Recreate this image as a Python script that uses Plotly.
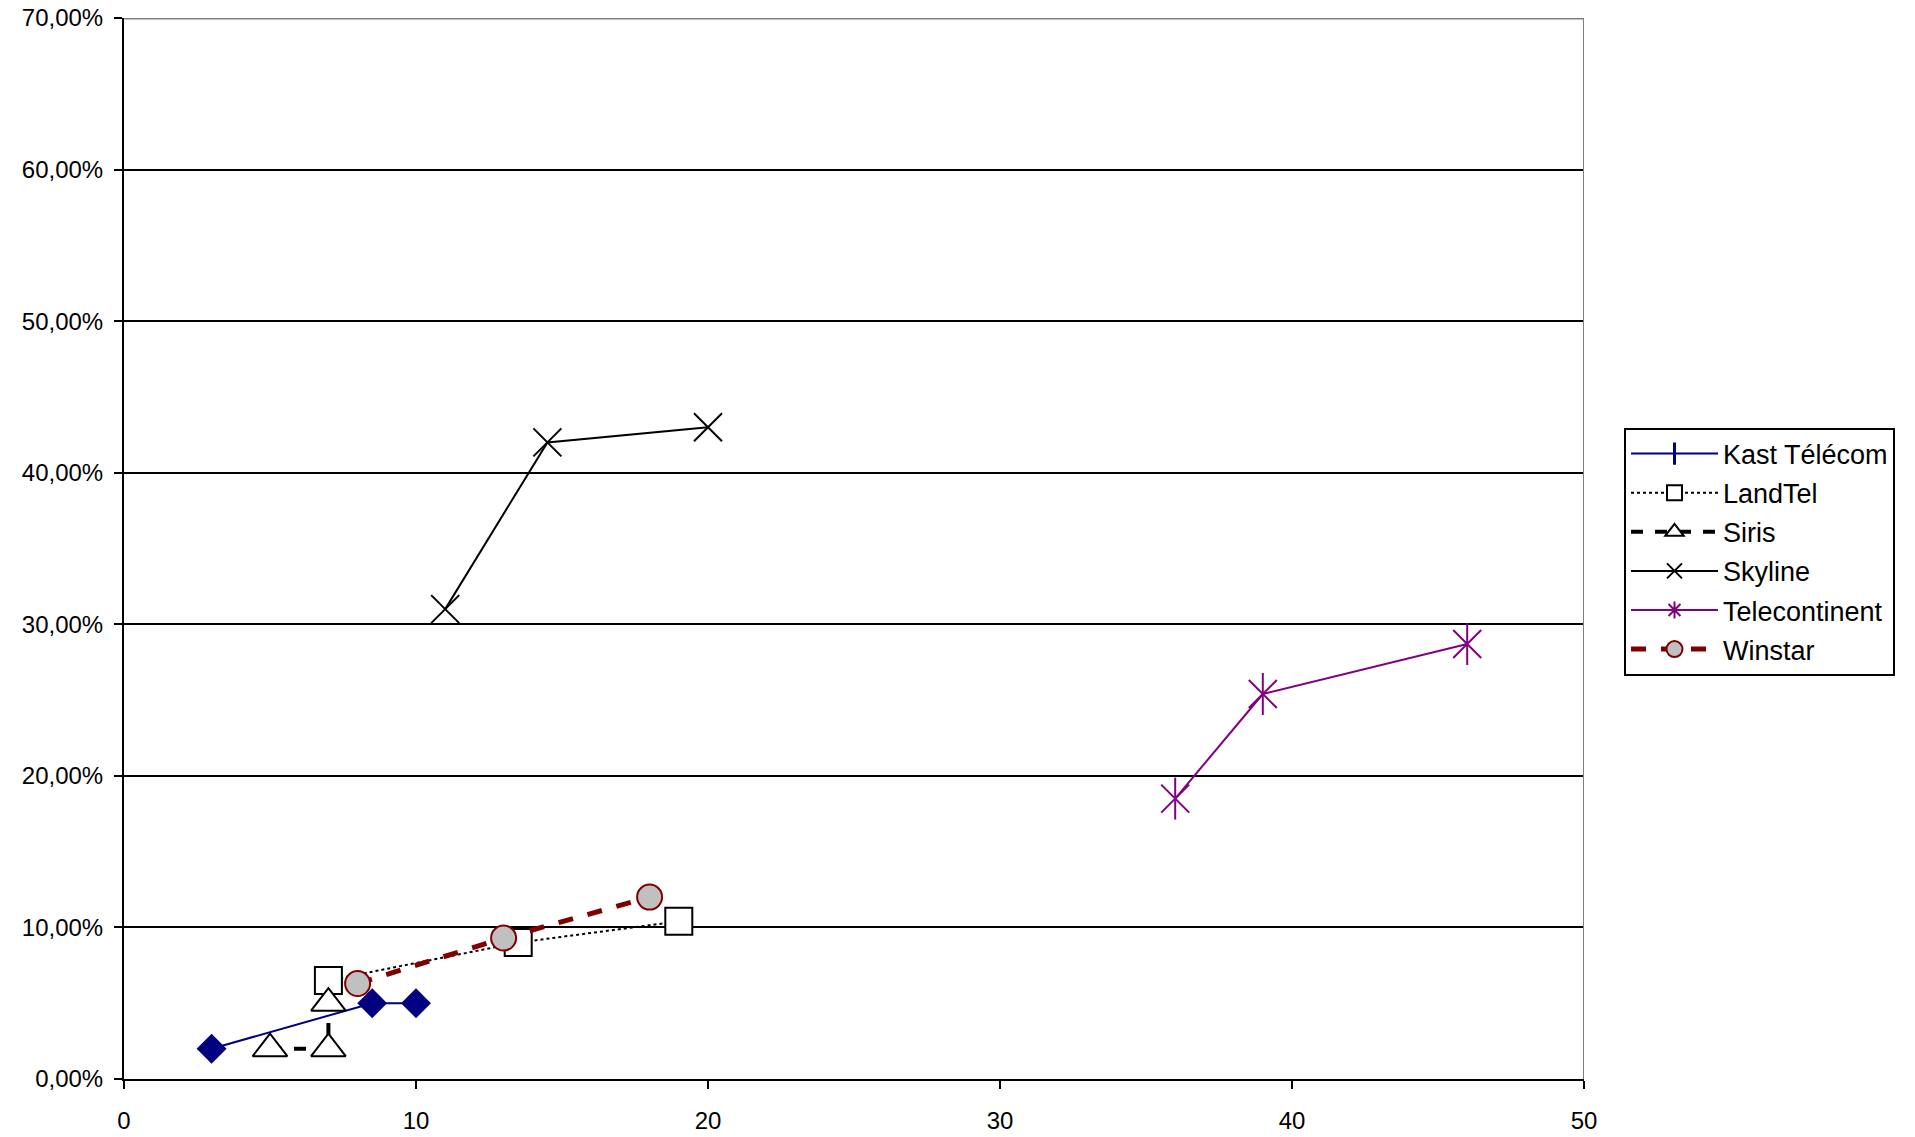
import plotly.graph_objects as go

# ---- data ----
series_names = ["Kast Télécom", "LandTel", "Siris", "Skyline", "Telecontinent", "Winstar"]

kast_x = [3, 8.5, 10]
kast_y = [0.02, 0.05, 0.05]

landtel_x = [7, 13.5, 19]
landtel_y = [0.065, 0.09, 0.104]

siris_x = [5, 7, 7]
siris_y = [0.02, 0.02, 0.05]

skyline_x = [11, 14.5, 20]
skyline_y = [0.31, 0.42, 0.43]

tele_x = [36, 39, 46]
tele_y = [0.185, 0.254, 0.287]

winstar_x = [8, 13, 18]
winstar_y = [0.063, 0.093, 0.12]

x_ticks = [0, 10, 20, 30, 40, 50]
y_ticks = [0, 0.1, 0.2, 0.3, 0.4, 0.5, 0.6, 0.7]
y_ticktext = ["0,00%", "10,00%", "20,00%", "30,00%", "40,00%", "50,00%", "60,00%", "70,00%"]

FONT = "Liberation Sans, Arial, sans-serif"

styles = {
    "Kast Télécom": dict(x=kast_x, y=kast_y,
                         line=dict(color="#000080", width=2),
                         marker=dict(symbol="diamond", size=23, color="#000080"),
                         leg_marker=dict(symbol="line-ns-open", size=16, color="#000080", line=dict(color="#000080", width=3))),
    "LandTel": dict(x=landtel_x, y=landtel_y,
                    line=dict(color="black", width=2, dash="dot"),
                    marker=dict(symbol="square", size=27, color="white", line=dict(color="black", width=2)),
                    leg_marker=dict(symbol="square", size=15, color="white", line=dict(color="black", width=2))),
    "Siris": dict(x=siris_x, y=siris_y,
                  line=dict(color="black", width=4, dash="dash"),
                  marker=dict(symbol="triangle-up", size=30, color="white", line=dict(color="black", width=2)),
                  leg_marker=dict(symbol="triangle-up", size=16, color="white", line=dict(color="black", width=2))),
    "Skyline": dict(x=skyline_x, y=skyline_y,
                    line=dict(color="black", width=2),
                    marker=dict(symbol="x-thin-open", size=28, color="black", line=dict(color="black", width=2)),
                    leg_marker=dict(symbol="x-thin-open", size=15, color="black", line=dict(color="black", width=2))),
    "Telecontinent": dict(x=tele_x, y=tele_y,
                          line=dict(color="#800080", width=2),
                          marker=dict(symbol="x-thin-open", size=28, color="#800080", line=dict(color="#800080", width=2)),
                          leg_marker=dict(symbol="asterisk-open", size=14, color="#800080", line=dict(color="#800080", width=2))),
    "Winstar": dict(x=winstar_x, y=winstar_y,
                    line=dict(color="#800000", width=5, dash="dash"),
                    marker=dict(symbol="circle", size=25, color="#C0C0C0", line=dict(color="#800000", width=2)),
                    leg_marker=dict(symbol="circle", size=16, color="#C0C0C0", line=dict(color="#800000", width=2))),
}

fig = go.Figure()

for i, name in enumerate(series_names):
    s = styles[name]
    fig.add_trace(go.Scatter(x=s["x"], y=s["y"], mode="lines+markers", name=name,
                             line=s["line"], marker=s["marker"], showlegend=False,
                             legendgroup=name, cliponaxis=False))
    if name == "Telecontinent":
        # Excel star marker: X plus a vertical bar
        fig.add_trace(go.Scatter(x=s["x"], y=s["y"], mode="markers", showlegend=False,
                                 marker=dict(symbol="line-ns-open", size=30, color="#800080",
                                             line=dict(color="#800080", width=2)),
                                 legendgroup=name, cliponaxis=False))
    fig.add_trace(go.Scatter(x=[None], y=[None], mode="lines+markers", name=name,
                             line=s["line"], marker=s["leg_marker"], showlegend=True,
                             legendgroup=name, legendrank=i + 1))

fig.update_layout(
    width=1915, height=1137,
    paper_bgcolor="white", plot_bgcolor="white",
    margin=dict(l=124, r=331, t=18, b=58, autoexpand=False),
    font=dict(family=FONT, size=24, color="black"),
    showlegend=True,
    legend=dict(x=1.0274, y=0.6140, xanchor="left", yanchor="top",
                bordercolor="black", borderwidth=2, bgcolor="white",
                font=dict(size=27, family=FONT, color="black"),
                tracegroupgap=1, itemwidth=87),
    xaxis=dict(range=[0, 50], tickvals=x_ticks, ticktext=[str(v) for v in x_ticks],
               showgrid=False, zeroline=False, showline=True, linecolor="black", linewidth=2,
               ticks="outside", ticklen=8, tickwidth=2, tickcolor="black",
               ticklabelstandoff=11, automargin=False),
    yaxis=dict(range=[0, 0.7], tickvals=y_ticks, ticktext=y_ticktext,
               showgrid=True, gridcolor="black", gridwidth=2, zeroline=False,
               showline=True, linecolor="black", linewidth=2,
               ticks="outside", ticklen=8, tickwidth=2, tickcolor="black",
               ticklabelstandoff=6, automargin=False),
    shapes=[
        dict(type="line", xref="x", yref="y", x0=0, x1=50, y0=0.7, y1=0.7,
             line=dict(color="#808080", width=3), layer="between"),
        dict(type="line", xref="x", yref="y", x0=50, x1=50, y0=0, y1=0.7,
             line=dict(color="#808080", width=2), layer="between"),
    ],
)

fig.write_html("out.html", config={"displayModeBar": False},
               post_script="document.body.style.margin='0';document.body.style.overflow='hidden';")
